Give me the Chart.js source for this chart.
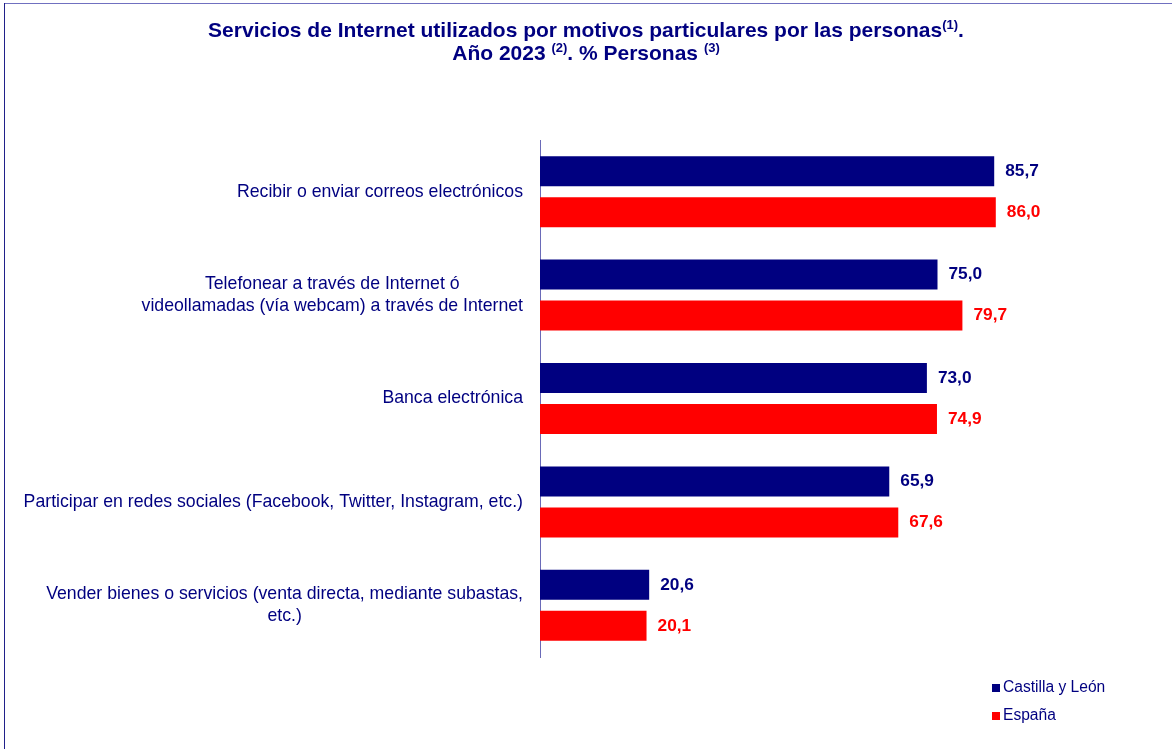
<!DOCTYPE html>
<html>
<head>
<meta charset="utf-8">
<script src="https://cdn.jsdelivr.net/npm/chart.js@4/dist/chart.umd.min.js"></script>
<style>
  html, body { margin: 0; padding: 0; background: #fff; }
  #wrap { width: 1172px; height: 749px; position: relative; }
</style>
</head>
<body>
<div id="wrap"><canvas id="serviciosChart" width="1172" height="749"></canvas></div>
<script>
// Datos
const categorias = [
    ['Recibir o enviar correos electrónicos'],
    ['Telefonear a través de Internet ó', 'videollamadas (vía webcam) a través de Internet'],
    ['Banca electrónica'],
    ['Participar en redes sociales (Facebook, Twitter, Instagram, etc.)'],
    ['Vender bienes o servicios (venta directa, mediante subastas,', 'etc.)']
];
const castillaLeon = [85.7, 75.0, 73.0, 65.9, 20.6];
const espana = [86.0, 79.7, 74.9, 67.6, 20.1];
const series = ['Castilla y León', 'España'];

const AZUL = '#000080';
const ROJO = '#ff0000';
const FUENTE = '"Liberation Sans", Arial, sans-serif';

// Titulo con superindices, marco, etiquetas y leyenda
const extras = {
    id: 'extras',
    afterDraw(chart) {
        const ctx = chart.ctx;
        ctx.save();

        // marco
        ctx.lineWidth = 1;
        ctx.strokeStyle = '#7070c0';
        ctx.beginPath();
        ctx.moveTo(4, 3.5);
        ctx.lineTo(1172, 3.5);
        ctx.stroke();
        ctx.strokeStyle = '#20208a';
        ctx.beginPath();
        ctx.moveTo(4.5, 3);
        ctx.lineTo(4.5, 749);
        ctx.stroke();

        // titulo
        const lineas = [
            [['Servicios de Internet utilizados por motivos particulares por las personas', false], ['(1)', true], ['.', false]],
            [['Año 2023 ', false], ['(2)', true], ['. % Personas ', false], ['(3)', true]]
        ];
        const ys = [31, 54];
        ctx.fillStyle = AZUL;
        ctx.textBaseline = 'middle';
        ctx.textAlign = 'left';
        lineas.forEach((partes, i) => {
            let total = 0;
            partes.forEach(([t, sup]) => {
                ctx.font = 'bold ' + (sup ? 13 : 21) + 'px ' + FUENTE;
                total += ctx.measureText(t).width;
            });
            let x = 586 - total / 2;
            partes.forEach(([t, sup]) => {
                ctx.font = 'bold ' + (sup ? 13 : 21) + 'px ' + FUENTE;
                ctx.fillText(t, x, ys[i] - (sup ? 6 : 0));
                x += ctx.measureText(t).width;
            });
        });

        // etiquetas de categoria (lineas centradas dentro del bloque)
        const yScale = chart.scales.y;
        const derecha = chart.chartArea.left - 17;
        const alto = 22;
        ctx.font = '17.7px ' + FUENTE;
        ctx.textAlign = 'center';
        categorias.forEach((lab, i) => {
            const yc = yScale.getPixelForValue(i);
            const maxW = Math.max(...lab.map(l => ctx.measureText(l).width));
            const cx = derecha - maxW / 2;
            const y0 = yc - (lab.length - 1) * alto / 2;
            lab.forEach((l, j) => ctx.fillText(l, cx, y0 + j * alto));
        });

        // valores
        ctx.font = 'bold 17.3px ' + FUENTE;
        ctx.textAlign = 'left';
        chart.data.datasets.forEach((ds, di) => {
            const meta = chart.getDatasetMeta(di);
            ctx.fillStyle = ds.backgroundColor;
            meta.data.forEach((bar, i) => {
                const txt = ds.data[i].toFixed(1).replace('.', ',');
                ctx.fillText(txt, bar.x + 11, bar.y);
            });
        });

        // leyenda
        ctx.font = '15.6px ' + FUENTE;
        const ly = [688, 716];
        chart.data.datasets.forEach((ds, di) => {
            ctx.fillStyle = ds.backgroundColor;
            ctx.fillRect(992, ly[di] - 4, 8, 8);
            ctx.fillStyle = AZUL;
            ctx.fillText(ds.label, 1003, ly[di]);
        });

        ctx.restore();
    }
};

const ctx = document.getElementById('serviciosChart').getContext('2d');
new Chart(ctx, {
    type: 'bar',
    data: {
        labels: categorias,
        datasets: [
            {
                label: series[0],
                data: castillaLeon,
                backgroundColor: AZUL,
                categoryPercentage: 0.793,
                barPercentage: 0.732
            },
            {
                label: series[1],
                data: espana,
                backgroundColor: ROJO,
                categoryPercentage: 0.793,
                barPercentage: 0.732
            }
        ]
    },
    options: {
        indexAxis: 'y',
        responsive: false,
        animation: false,
        layout: {
            padding: { top: 140, bottom: 92, right: 102, left: 0 }
        },
        plugins: {
            legend: { display: false },
            title: { display: false },
            tooltip: { enabled: false }
        },
        scales: {
            x: {
                display: false,
                min: 0,
                max: 100
            },
            y: {
                display: true,
                grid: { display: false, drawTicks: false },
                border: { display: true, color: '#6a6ab8', width: 1 },
                ticks: { display: false },
                afterFit(scale) { scale.width = 540; }
            }
        }
    },
    plugins: [extras]
});
</script>
</body>
</html>
